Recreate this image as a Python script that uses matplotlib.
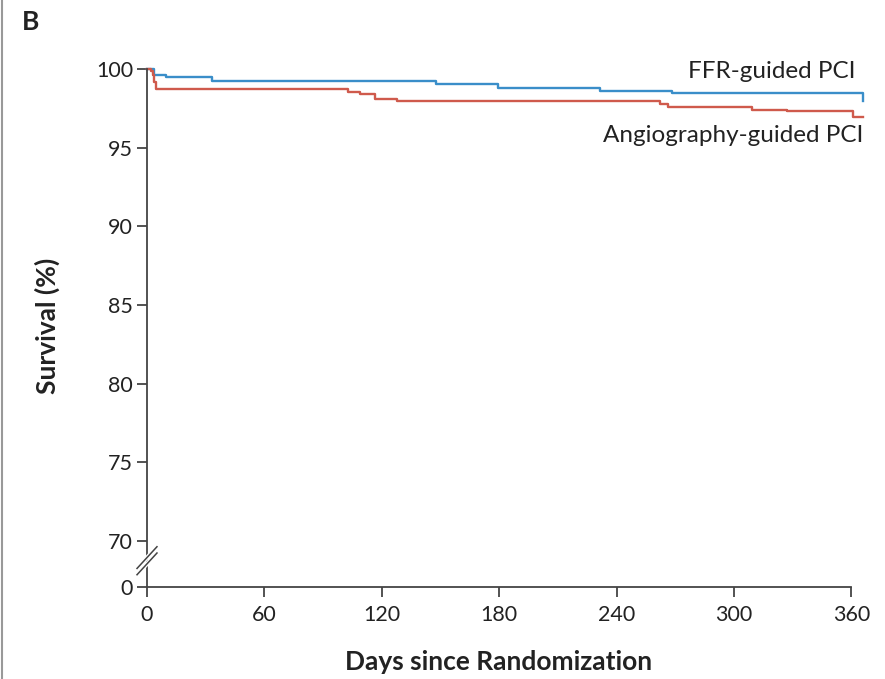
import numpy as np
import matplotlib
matplotlib.use("Agg")
import matplotlib.pyplot as plt
from matplotlib.lines import Line2D

plt.rcParams['font.family'] = ['Lato', 'DejaVu Sans']

# Kaplan-Meier curves (days, survival %)
ffr_days = [0, 3.5, 9.7, 33, 147.7, 179.4, 231.6, 268.4, 366]
ffr_surv = [100, 99.62, 99.51, 99.26, 99.03, 98.81, 98.62, 98.50, 97.99]

angio_days = [0, 1.9, 3.2, 3.7, 4.4, 102.8, 108.9, 116.6, 127.7,
              262.3, 266.4, 309.3, 327.2, 361, 366]
angio_surv = [100, 99.89, 99.62, 99.19, 98.73, 98.56, 98.39, 98.10, 97.99,
              97.77, 97.56, 97.39, 97.31, 96.92, 96.92]

x_ticks = [0, 60, 120, 180, 240, 300, 360]
y_ticks = [70, 75, 80, 85, 90, 95, 100]
y_zero_pos = 67.08  # where the "0" of the broken axis sits

blue = '#3a8ec9'
red = '#cf5a4c'
axis_col = '#444444'
text_col = '#222222'

fig = plt.figure(figsize=(8.85, 6.79), dpi=100)
ax = fig.add_axes([0.1661, 0.1355, 0.8102, 0.7698])

ax.plot(ffr_days, ffr_surv, drawstyle='steps-post', color=blue, lw=1.7, clip_on=False)
ax.plot(angio_days, angio_surv, drawstyle='steps-post', color=red, lw=1.7, clip_on=False)

ax.set_xlim(0, 366.5)
ax.set_ylim(y_zero_pos, 100.3)

for s in ['top', 'right']:
    ax.spines[s].set_visible(False)
ax.spines['bottom'].set_bounds(0, 360)
ax.spines['left'].set_bounds(y_zero_pos, 100)
for s in ['left', 'bottom']:
    ax.spines[s].set_color(axis_col)
    ax.spines[s].set_linewidth(1.3)

ax.set_xticks(x_ticks)
ax.set_xticklabels([str(t) for t in x_ticks])
ax.set_yticks([y_zero_pos] + y_ticks)
ax.set_yticklabels(['0'] + [str(t) for t in y_ticks])
ax.tick_params(direction='out', length=7, width=1.3, color=axis_col,
               labelsize=15.5, labelcolor=text_col, pad=3)
ax.tick_params(axis='x', pad=6)

# break marks on the y axis
for yc in [68.95, 68.55]:
    ax.plot([-5.1, 5.1], [yc - 0.69, yc + 0.69], color='white', lw=3, clip_on=False, zorder=5)
for yc in [68.95, 68.55]:
    ax.plot([-5.1, 5.1], [yc - 0.69, yc + 0.69], color=axis_col, lw=1.1, clip_on=False, zorder=6)

ax.text(362, 99.85, 'FFR-guided PCI', color=text_col, fontsize=17.5,
        ha='right', va='center')
ax.text(366, 95.8, 'Angiography-guided PCI', color=text_col, fontsize=17.5,
        ha='right', va='center')

ax.set_xlabel('Days since Randomization', fontsize=19, fontweight='bold',
              color=text_col, va='center', ha='center')
ax.set_ylabel('Survival (%)', fontsize=19, fontweight='bold',
              color=text_col, va='center', ha='center')
ax.xaxis.set_label_coords(0.49, -0.1435)
ax.yaxis.set_label_coords(-0.139, 0.5)

fig.text(0.034, 0.967, 'B', fontsize=19, fontweight='bold', color=text_col,
         ha='center', va='center')
fig.add_artist(Line2D([0.002, 0.002], [0, 1], color='#999999', lw=1.5,
                      transform=fig.transFigure))

fig.savefig('out.png', dpi=100)
